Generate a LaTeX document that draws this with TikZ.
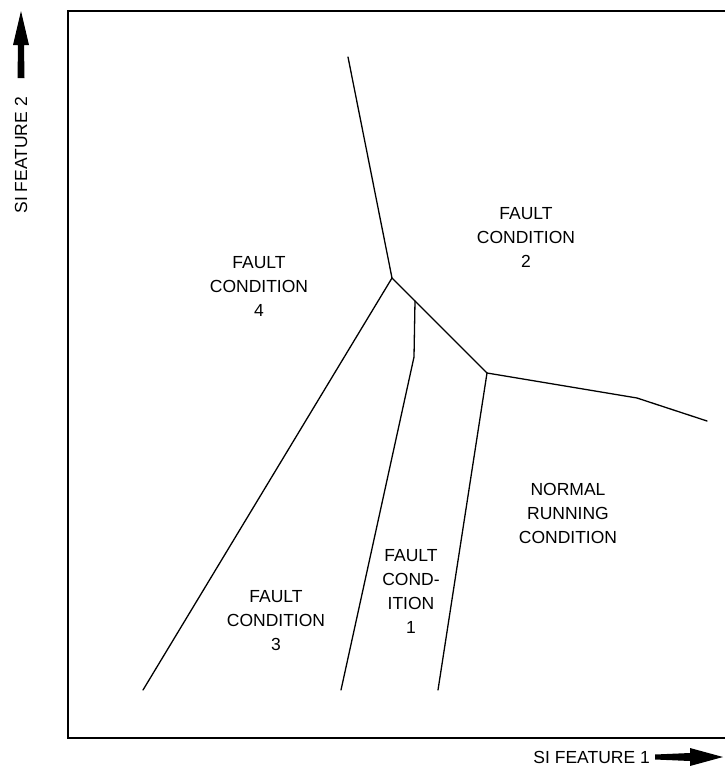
\documentclass[tikz,border=0pt]{standalone}
\usepackage{fontspec}
\setmainfont{Liberation Sans}
\begin{document}
\begin{tikzpicture}[x=1pt,y=-1pt,
  boundary/.style={line width=1.3pt, line join=round, line cap=round},
  framebox/.style={line width=1.4pt},
  lbl/.style={font=\fontsize{17.5}{24}\selectfont, align=center, inner sep=0pt},
  axlbl/.style={font=\fontsize{17.5}{20}\selectfont, inner sep=0pt},
  axarrow/.style={fill=black, draw=none}]
\useasboundingbox (0,0) rectangle (725,774);
% frame
\coordinate (ftr) at (725,11);
\coordinate (ftl) at (68,11);
\coordinate (fbl) at (68,738);
\coordinate (fbr) at (725,738);
\draw[framebox] (ftr) -- (ftl) -- (fbl) -- (fbr);
% boundary points
\coordinate (t) at (348,57);
\coordinate (A) at (392,278);
\coordinate (B) at (415,301);
\coordinate (C) at (487,373);
\coordinate (bl) at (143,690);
\coordinate (Bk) at (414,357);
\coordinate (bm) at (341,690);
\coordinate (br) at (438,690);
\coordinate (Ck) at (637,398);
\coordinate (r) at (707,421);
\draw[boundary] (t) -- (A) -- (bl);
\draw[boundary] (A) -- (B) -- (C);
\draw[boundary] (B) -- (Bk) -- (bm);
\draw[boundary] (C) -- (br);
\draw[boundary] (C) -- (Ck) -- (r);
% region labels
\node[lbl] (c2) at (526,237) {FAULT\\CONDITION\\2};
\node[lbl] (c4) at (259,286) {FAULT\\CONDITION\\4};
\node[lbl] (nr) at (568,513) {NORMAL\\RUNNING\\CONDITION};
\node[lbl] (c1) at (411,591) {FAULT\\COND-\\ITION\\1};
\node[lbl] (c3) at (276,621) {FAULT\\CONDITION\\3};
% axis labels
\node[axlbl, anchor=east] (x1) at (650,757) {SI FEATURE 1};
\fill[axarrow] (655,754.5) -- (690,753) -- (690,748) -- (723,757) -- (690,766) -- (690,761) -- (655,759.5) -- cycle;
\node[axlbl, rotate=90, anchor=east] (y2) at (21,97) {SI FEATURE 2};
\fill[axarrow] (17.5,78) -- (18,45) -- (13,45) -- (21,11) -- (29,45) -- (24,45) -- (24.5,78) -- cycle;
\end{tikzpicture}
\end{document}
